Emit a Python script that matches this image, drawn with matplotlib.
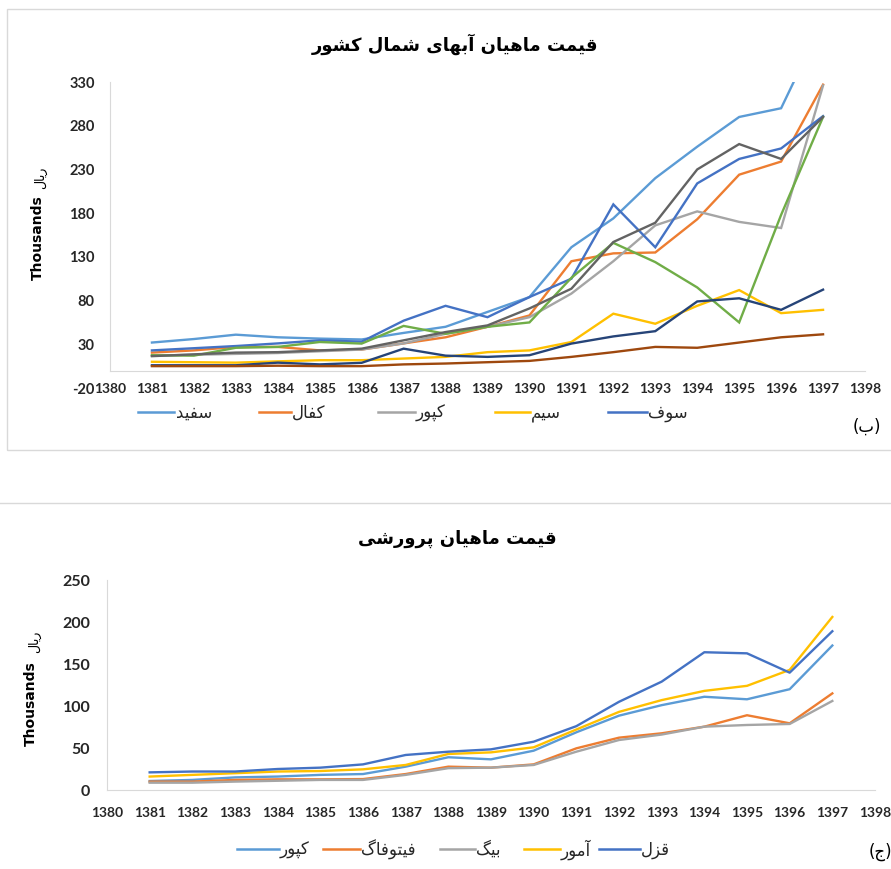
import matplotlib
matplotlib.use("Agg")
import matplotlib.pyplot as plt
from matplotlib.lines import Line2D
from matplotlib.patches import Rectangle

plt.rcParams["axes.unicode_minus"] = False

W, H = 891, 869

YEARS = list(range(1381, 1398))

# top chart: north-water fish prices (thousand rial)
NORTH_LABELS = ["سفید", "کفال", "کپور", "سیم", "سوف"]
north_sefid = [32, 36, 41, 38, 36.5, 35.5, 43, 50, 67, 84, 141, 174, 220, 256, 290, 300, 400]
north_kafal = [20.5, 23, 27, 27, 23, 24, 31, 38, 50, 63, 125, 134, 135, 173, 224, 239, 327]
north_kapoor = [17, 18, 19, 20, 22, 24, 31, 42, 50, 61, 88, 125, 166, 182, 170, 163, 326]
north_sim = [10, 9.5, 9, 10.5, 11.8, 11.8, 13.7, 15.6, 21, 23, 32.6, 65, 53.5, 74, 92, 65.6, 69.4]
north_soof = [23, 25.5, 28, 31, 34.5, 33, 57, 74, 61, 84, 105, 190, 141, 214, 242, 254, 291]
north_s6 = [17.5, 17, 26, 27, 32.6, 30.8, 51, 42, 50, 55, 106, 146, 124, 95, 55, 178, 290]
north_s7 = [6, 6, 6, 9, 7, 8.8, 25, 17, 15.6, 17.5, 30.8, 39, 45, 79, 82.6, 69.4, 92.5]
north_s8 = [5, 5, 5, 5.5, 5, 5, 7, 8, 9.5, 11, 15.6, 21, 27, 26, 32, 38, 41.4]
north_s9 = [16.4, 18.5, 20.5, 21, 23, 25, 34.5, 44, 51.6, 71, 93.6, 147, 169, 230, 259, 242, 290]

# bottom chart: farmed fish prices (thousand rial)
FARM_LABELS = ["کپور", "فیتوفاگ", "بیگ", "آمور", "قزل"]
farm_kapoor = [10.7, 12, 15, 16, 18, 19, 27.8, 39, 36.5, 46.8, 68.7, 88.5, 101, 111, 108, 120, 172]
farm_phyto = [10, 10, 12, 12.7, 12.7, 13, 19, 27.8, 26.6, 30.5, 49.6, 62.3, 67.5, 75.4, 89, 79.4, 115]
farm_big = [8.7, 8.7, 10, 11, 12, 12, 18, 26, 26.6, 29.8, 45.6, 59.5, 66, 75.4, 77.4, 78.6, 106]
farm_amoor = [16, 18, 20, 22, 22.6, 24.6, 29.8, 42.9, 44.8, 50.8, 72, 93, 107, 118, 124, 143, 206]
farm_ghezel = [21, 22, 22, 25, 26.6, 30.5, 41.7, 45.6, 48.4, 57.5, 76, 105, 129, 164, 162.7, 139.7, 189]

NORTH_TICKS = list(range(-20, 331, 50))
FARM_TICKS = list(range(0, 251, 50))
X_TICKS = list(range(1380, 1399))

COLORS = ["#5B9BD5", "#ED7D31", "#A5A5A5", "#FFC000", "#4472C4",
          "#70AD47", "#264478", "#9E480E", "#636363"]
AXIS_GREY = "#D9D9D9"

# contextual forms: isolated, final, initial, medial (None = no join to next)
FORMS = {
    "ا": ("\ufe8d", "\ufe8e", None, None),
    "آ": ("\ufe81", "\ufe82", None, None),
    "ب": ("\ufe8f", "\ufe90", "\ufe91", "\ufe92"),
    "پ": ("\ufb56", "\ufb57", "\ufb58", "\ufb59"),
    "ت": ("\ufe95", "\ufe96", "\ufe97", "\ufe98"),
    "د": ("\ufea9", "\ufeaa", None, None),
    "ر": ("\ufead", "\ufeae", None, None),
    "ز": ("\ufeaf", "\ufeb0", None, None),
    "س": ("\ufeb1", "\ufeb2", "\ufeb3", "\ufeb4"),
    "ش": ("\ufeb5", "\ufeb6", "\ufeb7", "\ufeb8"),
    "ف": ("\ufed1", "\ufed2", "\ufed3", "\ufed4"),
    "ق": ("\ufed5", "\ufed6", "\ufed7", "\ufed8"),
    "ک": ("\ufb8e", "\ufb8f", "\ufb90", "\ufb91"),
    "گ": ("\ufb92", "\ufb93", "\ufb94", "\ufb95"),
    "ل": ("\ufedd", "\ufede", "\ufedf", "\ufee0"),
    "م": ("\ufee1", "\ufee2", "\ufee3", "\ufee4"),
    "ن": ("\ufee5", "\ufee6", "\ufee7", "\ufee8"),
    "ه": ("\ufee9", "\ufeea", "\ufeeb", "\ufeec"),
    "و": ("\ufeed", "\ufeee", None, None),
    "ی": ("\ufbfc", "\ufbfd", "\ufbfe", "\ufbff"),
}
MIRROR = {"(": ")", ")": "("}


def fa(text):
    """Shape Persian text and put it in visual (left-to-right) order."""
    out = []
    for i, ch in enumerate(text):
        if ch not in FORMS:
            out.append(MIRROR.get(ch, ch))
            continue
        iso, fin, ini, med = FORMS[ch]
        prev = text[i - 1] if i > 0 else ""
        nxt = text[i + 1] if i + 1 < len(text) else ""
        joins_prev = prev in FORMS and FORMS[prev][2] is not None
        joins_next = ini is not None and nxt in FORMS
        if joins_prev and joins_next:
            out.append(med)
        elif joins_prev:
            out.append(fin)
        elif joins_next:
            out.append(ini)
        else:
            out.append(iso)
    return "".join(reversed(out))


def px(x, y):
    return x / W, 1 - y / H


def style_axes(ax, ylim, yticks, xpad, ypad, xsize, ysize):
    ax.set_xlim(1380, 1398)
    ax.set_ylim(*ylim)
    ax.set_xticks(X_TICKS)
    ax.set_yticks(yticks)
    for side in ("top", "right"):
        ax.spines[side].set_visible(False)
    ax.spines["left"].set_color(AXIS_GREY)
    ax.spines["bottom"].set_color(AXIS_GREY)
    ax.spines["bottom"].set_position(("data", 0))
    ax.tick_params(axis="both", length=0, colors="#262626")
    ax.tick_params(axis="x", pad=xpad, labelsize=xsize)
    ax.tick_params(axis="y", pad=ypad, labelsize=ysize)
    for lab in ax.get_xticklabels() + ax.get_yticklabels():
        lab.set_fontweight("bold")
        lab.set_family("Lato")
    ax.set_facecolor("none")


def legend_row(fig, entries, y):
    # entries: (line_x0, line_x1, text_x, label, color)
    for x0, x1, tx, label, color in entries:
        fig.add_artist(Line2D([x0 / W, x1 / W], [1 - y / H] * 2,
                              transform=fig.transFigure, color=color, lw=1.8))
        fig.text(tx / W, 1 - (y + 1) / H, fa(label), ha="left", va="center",
                 fontsize=12, family="DejaVu Sans", color="#262626")


fig = plt.figure(figsize=(W / 100, H / 100), dpi=100)

# panel frames
fig.add_artist(Rectangle(px(7, 450), (W - 6) / W, 441 / H, transform=fig.transFigure,
                         fill=False, edgecolor=AXIS_GREY, lw=1.0))
fig.add_artist(Rectangle(px(-2, 872), (W + 4) / W, 369 / H, transform=fig.transFigure,
                         fill=False, edgecolor=AXIS_GREY, lw=1.0))

# ---- top chart ----
ax1 = fig.add_axes([110 / W, 1 - 388 / H, 755 / W, 306 / H])
north_series = [north_sefid, north_kafal, north_kapoor, north_sim, north_soof,
                north_s6, north_s7, north_s8, north_s9]
for vals, color in zip(north_series, COLORS):
    ax1.plot(YEARS, vals, color=color, lw=1.7, solid_joinstyle="miter")
style_axes(ax1, (-20, 330), NORTH_TICKS, xpad=9, ypad=11, xsize=10, ysize=10.5)
ax1.spines["left"].set_bounds(0, 330)

fig.text(*px(455, 44), fa("قیمت ماهیان آبهای شمال کشور"), ha="center", va="center",
         fontsize=13, fontweight="bold", family="DejaVu Sans")
fig.text(*px(38, 238), "Thousands", rotation=90, ha="center", va="center",
         fontsize=10, fontweight="bold", family="DejaVu Sans")
fig.text(*px(41, 178), fa("ریال"), rotation=90, ha="center", va="center",
         fontsize=9, family="DejaVu Sans")

legend_row(fig, [
    (138, 174, 176, NORTH_LABELS[0], COLORS[0]),
    (259, 291, 292, NORTH_LABELS[1], COLORS[1]),
    (378, 415, 416, NORTH_LABELS[2], COLORS[2]),
    (495, 530, 531, NORTH_LABELS[3], COLORS[3]),
    (608, 647, 648, NORTH_LABELS[4], COLORS[4]),
], 412)
fig.text(*px(867, 427), fa("(ب)"), ha="center", va="center", fontsize=12,
         family="DejaVu Sans")

# ---- bottom chart ----
ax2 = fig.add_axes([107 / W, 1 - 790 / H, 768 / W, 210 / H])
farm_series = [farm_kapoor, farm_phyto, farm_big, farm_amoor, farm_ghezel]
for vals, color in zip(farm_series, COLORS[:5]):
    ax2.plot(YEARS, vals, color=color, lw=1.7)
style_axes(ax2, (0, 250), FARM_TICKS, xpad=12, ypad=12, xsize=10, ysize=11.5)

fig.text(*px(457, 539), fa("قیمت ماهیان پرورشی"), ha="center", va="center",
         fontsize=13, fontweight="bold", family="DejaVu Sans")
fig.text(*px(31, 704), "Thousands", rotation=90, ha="center", va="center",
         fontsize=10, fontweight="bold", family="DejaVu Sans")
fig.text(*px(35, 642), fa("ریال"), rotation=90, ha="center", va="center",
         fontsize=9, family="DejaVu Sans")

legend_row(fig, [
    (237, 279, 280, FARM_LABELS[0], COLORS[0]),
    (323, 360, 361, FARM_LABELS[1], COLORS[1]),
    (440, 475, 476, FARM_LABELS[2], COLORS[2]),
    (524, 560, 561, FARM_LABELS[3], COLORS[3]),
    (599, 640, 641, FARM_LABELS[4], COLORS[4]),
], 849)
fig.text(*px(880, 852), fa("(ج)"), ha="center", va="center", fontsize=12,
         family="DejaVu Sans")

fig.savefig("out.png", dpi=100)
